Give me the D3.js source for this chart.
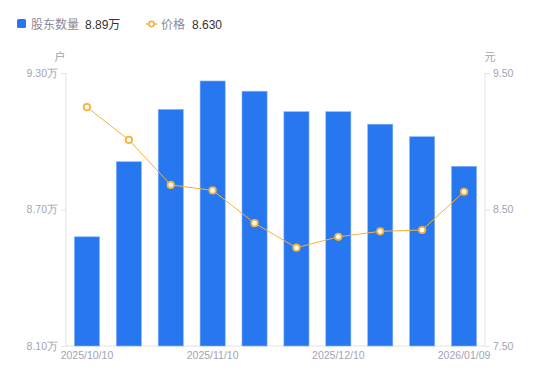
<!DOCTYPE html>
<html>
<head>
<meta charset="utf-8">
<script src="https://cdn.jsdelivr.net/npm/d3@7"></script>
<style>
  body { margin: 0; background: #fff; }
  svg { font-family: "Liberation Sans", "Noto Sans CJK SC", sans-serif; }
</style>
</head>
<body>
<svg width="550" height="381"></svg>
<script>
// dates of each report, only some are labelled on the axis
const dates = ["2025/10/10", "2025/10/20", "2025/10/31", "2025/11/10", "2025/11/20",
               "2025/11/28", "2025/12/10", "2025/12/19", "2025/12/31", "2026/01/09"];
const shownDates = ["2025/10/10", "2025/11/10", "2025/12/10", "2026/01/09"];
// shareholders, in 万户
const holders = [8.58, 8.91, 9.14, 9.265, 9.22, 9.13, 9.13, 9.075, 9.02, 8.89];
// price, 元
const prices = [9.25, 9.01, 8.68, 8.64, 8.40, 8.22, 8.30, 8.34, 8.35, 8.63];
const holderTicks = [8.10, 8.70, 9.30];
const priceTicks = [7.50, 8.50, 9.50];

const svg = d3.select("svg");
const padL = 66, padR = 485, padT = 73, padB = 346;
const blue = "#2777f1", orange = "#f7b23b";

const x = d3.scaleBand().domain(dates).range([padL, padR]).paddingInner(0.4).paddingOuter(0.2);
const yL = d3.scaleLinear().domain([8.10, 9.30]).range([padB, padT]);
const yR = d3.scaleLinear().domain([7.50, 9.50]).range([padB, padT]);

// axes
const axL = svg.append("g").attr("transform", `translate(${padL},0)`)
  .call(d3.axisLeft(yL).tickValues(holderTicks).tickSize(5).tickPadding(3).tickFormat(d => d3.format(".2f")(d) + "万"));
const axR = svg.append("g").attr("transform", `translate(${padR},0)`)
  .call(d3.axisRight(yR).tickValues(priceTicks).tickSize(5).tickPadding(3).tickFormat(d3.format(".2f")));
const axB = svg.append("g").attr("transform", `translate(0,${padB})`)
  .call(d3.axisBottom(x).tickValues(shownDates).tickSize(0).tickPadding(6));

[axL, axR, axB].forEach(g => {
  g.selectAll(".domain").attr("stroke", "#e3e3e6");
  g.selectAll(".tick line").attr("stroke", "#e3e3e6");
  g.selectAll("text").attr("fill", "#a3a3b3").attr("font-size", 10.5);
});
axL.select(".domain").attr("d", `M0,${padT}V${padB}`);
axR.select(".domain").attr("d", `M0,${padT}V${padB}`);
axB.select(".domain").attr("d", `M${padL},0H${padR}`);

svg.append("text").attr("x", 60).attr("y", 61).attr("text-anchor", "middle")
  .attr("font-size", 11).attr("fill", "#a3a3b3").text("户");
svg.append("text").attr("x", 490).attr("y", 61).attr("text-anchor", "middle")
  .attr("font-size", 11).attr("fill", "#a3a3b3").text("元");

// bars
svg.append("g").selectAll("rect").data(holders).enter().append("rect")
  .attr("x", (d, i) => x(dates[i]))
  .attr("y", d => yL(d))
  .attr("width", x.bandwidth())
  .attr("height", d => padB - yL(d))
  .attr("fill", blue)
  .attr("stroke", "#8cb6f7").attr("stroke-width", 0.6);

// price line
const line = d3.line().x((d, i) => x(dates[i]) + x.bandwidth() / 2).y(d => yR(d));
svg.append("path").datum(prices).attr("d", line)
  .attr("fill", "none").attr("stroke", orange).attr("stroke-width", 1);
svg.append("g").selectAll("circle").data(prices).enter().append("circle")
  .attr("cx", (d, i) => x(dates[i]) + x.bandwidth() / 2)
  .attr("cy", d => yR(d))
  .attr("r", 3.2)
  .attr("fill", "#fff").attr("stroke", orange).attr("stroke-width", 1.8);

// legend
const lg = svg.append("g").attr("font-size", 12);
lg.append("rect").attr("x", 17).attr("y", 19).attr("width", 9).attr("height", 9).attr("rx", 1.5).attr("fill", blue);
lg.append("text").attr("x", 31).attr("y", 28.5).attr("fill", "#8a8a99").text("股东数量");
lg.append("text").attr("x", 85).attr("y", 28.5).attr("fill", "#333").text("8.89万");
lg.append("line").attr("x1", 146).attr("x2", 157).attr("y1", 24).attr("y2", 24).attr("stroke", orange).attr("stroke-width", 1.5);
lg.append("circle").attr("cx", 151.5).attr("cy", 24).attr("r", 2.6).attr("fill", "#fff").attr("stroke", orange).attr("stroke-width", 1.6);
lg.append("text").attr("x", 161).attr("y", 28.5).attr("fill", "#8a8a99").text("价格");
lg.append("text").attr("x", 192).attr("y", 28.5).attr("fill", "#333").text("8.630");
</script>
</body>
</html>
